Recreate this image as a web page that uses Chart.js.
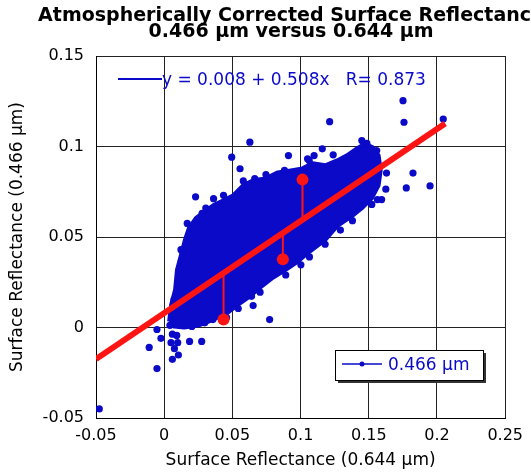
<!DOCTYPE html>
<html>
<head>
<meta charset="utf-8">
<script src="https://cdn.jsdelivr.net/npm/chart.js@4"></script>
<style>
  body { margin: 0; background: #fff; overflow: hidden; }
  canvas { display: block; }
</style>
</head>
<body>
<canvas id="chart" width="531" height="476"></canvas>
<script>
// axis ticks
const xTicks = [-0.05, 0, 0.05, 0.1, 0.15, 0.2, 0.25];
const yTicks = [-0.05, 0, 0.05, 0.1, 0.15];

// outline of the dense part of the point cloud (x = 0.644 um, y = 0.466 um)
const cloudX = [0.0036, 0.0051, 0.008, 0.0094, 0.0123, 0.0152, 0.0181, 0.0232, 0.029, 0.0362, 0.0435, 0.0507, 0.058, 0.0652, 0.0746, 0.0833, 0.0928, 0.1014, 0.1087, 0.1181, 0.1268, 0.134, 0.1413, 0.1471, 0.1529, 0.1572, 0.1587, 0.1572, 0.1522, 0.1449, 0.1377, 0.1268, 0.1181, 0.1065, 0.0978, 0.0891, 0.0797, 0.0703, 0.0616, 0.0543, 0.0457, 0.0362, 0.0254, 0.0145, 0.0072, 0.0036];
const cloudY = [0.0033, 0.0126, 0.0209, 0.0319, 0.0401, 0.0484, 0.0549, 0.0604, 0.0637, 0.0676, 0.0703, 0.0731, 0.0786, 0.0813, 0.0824, 0.0857, 0.0868, 0.0879, 0.0907, 0.0896, 0.0923, 0.0951, 0.0989, 0.1016, 0.0995, 0.0951, 0.0868, 0.0786, 0.0714, 0.0659, 0.0615, 0.056, 0.0484, 0.0418, 0.0363, 0.0319, 0.0275, 0.022, 0.0165, 0.0126, 0.0077, 0.0044, 0.0011, 0.0, 0.0005, 0.0033];

// single points (outliers and ragged edge of the cloud)
const pointX = [-0.0476, -0.011, -0.0053, -0.0024, -0.0053, 0.006, 0.0092, 0.005, 0.0099, 0.0075, 0.0104, 0.006, 0.0186, 0.0275,
  0.0042, 0.0104, 0.0297, 0.0357, 0.0773, 0.0652, 0.064, 0.064, 0.1002, 0.0072, 0.0138, 0.0193, 0.0169, 0.023, 0.0278, 0.0362,
  0.0495, 0.0556, 0.0628, 0.0664, 0.0882, 0.0911, 0.1051, 0.1063, 0.1099, 0.1159, 0.1239, 0.1213, 0.136, 0.1437, 0.1449, 0.1486,
  0.1558, 0.1751, 0.1758, 0.2046, 0.163, 0.1824, 0.1625, 0.1775, 0.1949, 0.1563, 0.1594, 0.1292,
  0.0543, 0.0703, 0.0891, 0.1065, 0.118, 0.138, 0.1522, 0.0435, 0.058, 0.0746, 0.0305, 0.0123, 0.0457, 0.0203];
const pointY = [-0.045, -0.011, -0.0011, -0.006, -0.0227, -0.0037, -0.0044, -0.0084, -0.0084, -0.0117, -0.0152, -0.0176, -0.0077, -0.0077,
  0.0012, 0.0035, 0.0026, 0.0044, 0.0044, 0.0121, 0.0172, 0.0209, 0.0346, 0.0154, 0.0401, 0.0511, 0.0575, 0.0722, 0.063, 0.0712,
  0.0941, 0.0877, 0.1024, 0.0823, 0.0868, 0.095, 0.0932, 0.0923, 0.095, 0.0987, 0.0954, 0.1137, 0.0927, 0.0932, 0.1033, 0.1018,
  0.0978, 0.1253, 0.1134, 0.1152, 0.0853, 0.0853, 0.0764, 0.0771, 0.0782, 0.0707, 0.0707, 0.0538,
  0.0105, 0.0195, 0.029, 0.039, 0.046, 0.059, 0.068, 0.073, 0.081, 0.0845, 0.066, 0.043, 0.0055, 0.0006];

// highlighted points with residuals
const redX = [0.0435, 0.087, 0.1014];
const redY = [0.0044, 0.0377, 0.0817];

// regression y = a + b x
const fitA = 0.008;
const fitB = 0.508;
const fitR = 0.873;
const fitXRange = [-0.05, 0.206];

const BLUE = '#0a0ac8';
const RED = '#ff1414';
const FONT = '"DejaVu Sans", "Liberation Sans", sans-serif';

const fitY = x => fitA + fitB * x;
const zip = (xs, ys) => xs.map((x, i) => ({x: x, y: ys[i]}));

const residualSets = redX.map((x, i) => ({
  data: [{x: x, y: redY[i]}, {x: x, y: fitY(x)}],
  showLine: true,
  borderColor: RED,
  borderWidth: 2,
  pointRadius: 0,
  order: 2
}));

const decorations = {
  id: 'decorations',
  afterDraw(chart) {
    const ctx = chart.ctx;
    const area = chart.chartArea;
    ctx.save();
    // title
    ctx.fillStyle = '#000';
    ctx.textAlign = 'center';
    ctx.textBaseline = 'alphabetic';
    ctx.font = 'bold 19px ' + FONT;
    ctx.fillText('Atmospherically Corrected Surface Reflectance', 291, 21);
    ctx.fillText('0.466 \u00b5m versus 0.644 \u00b5m', 291, 37);

    // fit label
    ctx.strokeStyle = BLUE;
    ctx.lineWidth = 2;
    ctx.beginPath();
    ctx.moveTo(area.left + 22, 79);
    ctx.lineTo(area.left + 66, 79);
    ctx.stroke();
    ctx.fillStyle = BLUE;
    ctx.textAlign = 'left';
    ctx.font = '17px ' + FONT;
    ctx.fillText('y = ' + fitA.toFixed(3) + ' + ' + fitB.toFixed(3) + 'x   R= ' + fitR.toFixed(3), area.left + 66, 85);

    // legend box
    const bx = 335, by = 350, bw = 148, bh = 30;
    ctx.fillStyle = '#333';
    ctx.fillRect(bx + 3, by + 3, bw, bh);
    ctx.fillStyle = '#fff';
    ctx.fillRect(bx, by, bw, bh);
    ctx.strokeStyle = '#000';
    ctx.lineWidth = 1;
    ctx.strokeRect(bx + 0.5, by + 0.5, bw, bh);
    ctx.strokeStyle = BLUE;
    ctx.lineWidth = 1.5;
    ctx.beginPath();
    ctx.moveTo(bx + 7, by + 14);
    ctx.lineTo(bx + 47, by + 14);
    ctx.stroke();
    ctx.fillStyle = BLUE;
    ctx.beginPath();
    ctx.arc(bx + 27, by + 14, 2.5, 0, Math.PI * 2);
    ctx.fill();
    ctx.font = '17px ' + FONT;
    ctx.fillText('0.466 \u00b5m', bx + 53, by + 20);
    ctx.restore();
  }
};

new Chart(document.getElementById('chart'), {
  type: 'scatter',
  data: {
    datasets: [
      {
        data: zip(cloudX, cloudY),
        showLine: true,
        fill: 'shape',
        backgroundColor: BLUE,
        borderColor: BLUE,
        borderWidth: 4,
        borderJoinStyle: 'round',
        tension: 0,
        pointRadius: 0,
        order: 5
      },
      {
        data: zip(pointX, pointY),
        backgroundColor: BLUE,
        borderWidth: 0,
        pointRadius: 3.6,
        order: 4
      },
      {
        data: fitXRange.map(x => ({x: x, y: fitY(x)})),
        showLine: true,
        borderColor: RED,
        borderWidth: 6,
        pointRadius: 0,
        order: 3
      },
      ...residualSets,
      {
        data: zip(redX, redY),
        backgroundColor: RED,
        borderWidth: 0,
        pointRadius: 6,
        order: 1
      }
    ]
  },
  options: {
    responsive: false,
    animation: false,
    layout: { padding: { top: 56, right: 21, left: 0, bottom: 0 } },
    plugins: {
      legend: { display: false },
      tooltip: { enabled: false }
    },
    scales: {
      x: {
        type: 'linear',
        min: -0.05,
        max: 0.25,
        afterBuildTicks: s => { s.ticks = xTicks.map(v => ({value: v})); },
        afterFit: s => { s.height = 58; },
        grid: { color: '#222', lineWidth: 1, drawTicks: false },
        border: { color: '#000', width: 1 },
        ticks: {
          padding: 8,
          color: '#000',
          font: { family: FONT, size: 16 },
          callback: v => String(+v.toFixed(2))
        },
        title: {
          display: true,
          text: 'Surface Reflectance (0.644 \u00b5m)',
          color: '#000',
          font: { family: FONT, size: 17 },
          padding: { top: 0, bottom: 5 }
        }
      },
      y: {
        type: 'linear',
        min: -0.05,
        max: 0.15,
        afterBuildTicks: s => { s.ticks = yTicks.map(v => ({value: v})); },
        afterFit: s => { s.width = 96; },
        grid: { color: '#222', lineWidth: 1, drawTicks: false },
        border: { color: '#000', width: 1 },
        ticks: {
          padding: 12,
          color: '#000',
          font: { family: FONT, size: 16 },
          callback: v => String(+v.toFixed(2))
        },
        title: {
          display: true,
          text: 'Surface Reflectance (0.466 \u00b5m)',
          color: '#000',
          font: { family: FONT, size: 17 },
          padding: { top: 7, bottom: 0 }
        }
      }
    }
  },
  plugins: [decorations]
});
</script>
</body>
</html>
